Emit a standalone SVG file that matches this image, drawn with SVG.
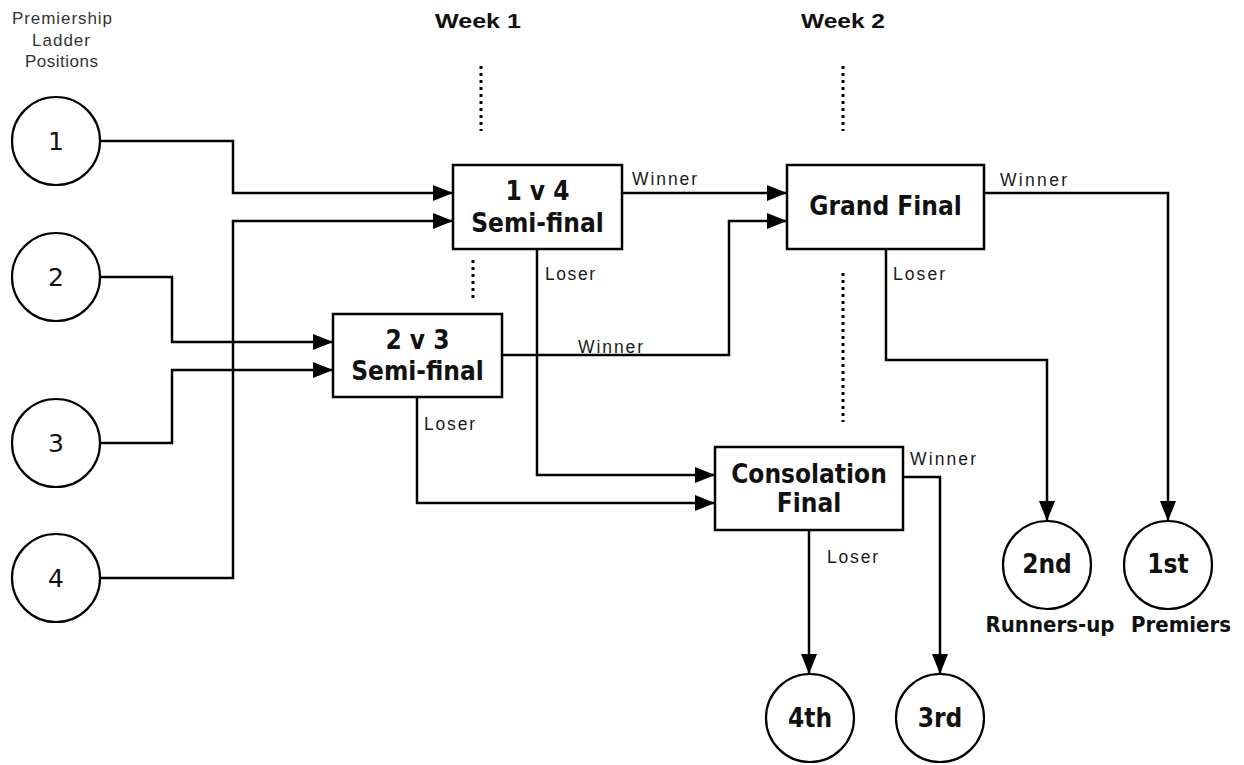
<svg xmlns="http://www.w3.org/2000/svg" width="1244" height="765" viewBox="0 0 1244 765">
<defs>
<marker id="arr" markerUnits="userSpaceOnUse" markerWidth="20" markerHeight="16" refX="20" refY="8" orient="auto">
<path d="M0,0 L20,8 L0,16 z" fill="#000"/>
</marker>
<style>
.c{fill:#fff;stroke:#000;stroke-width:2.2}
.b{fill:#fff;stroke:#000;stroke-width:2.5}
.ln{fill:none;stroke:#000;stroke-width:2.5;marker-end:url(#arr)}
.dot{fill:none;stroke:#000;stroke-width:3;stroke-dasharray:3 4}
.num{font-family:"DejaVu Sans",sans-serif;font-size:25px;fill:#111;text-anchor:middle}
.bx{font-family:"DejaVu Sans Condensed","DejaVu Sans",sans-serif;font-stretch:condensed;font-weight:bold;font-size:26px;fill:#111;text-anchor:middle}
.sub{font-family:"DejaVu Sans Condensed","DejaVu Sans",sans-serif;font-stretch:condensed;font-weight:bold;font-size:22px;fill:#111;text-anchor:middle}
.lb{font-family:"Liberation Sans",Arial,sans-serif;font-size:17.5px;fill:#1a1a1a}
.wk{font-family:"Liberation Sans",Arial,sans-serif;font-weight:bold;font-size:20px;fill:#111}
.hd{font-family:"Liberation Sans",Arial,sans-serif;font-size:17px;fill:#333}
</style>
</defs>
<rect width="1244" height="765" fill="#fff"/>

<g id="header">
<text class="hd" x="12" y="24" textLength="100" lengthAdjust="spacing">Premiership</text>
<text class="hd" x="32" y="46" textLength="58" lengthAdjust="spacing">Ladder</text>
<text class="hd" x="25" y="67" textLength="73" lengthAdjust="spacing">Positions</text>
<text class="wk" x="435" y="28" textLength="86" lengthAdjust="spacingAndGlyphs">Week 1</text>
<text class="wk" x="801" y="28" textLength="84" lengthAdjust="spacingAndGlyphs">Week 2</text>
</g>

<g id="dividers">
<line class="dot" x1="481" y1="66" x2="481" y2="131"/>
<line class="dot" x1="473" y1="260" x2="473" y2="299"/>
<line class="dot" x1="843" y1="66" x2="843" y2="131"/>
<line class="dot" x1="843" y1="273" x2="843" y2="422"/>
</g>

<g id="connectors">
<path class="ln" d="M100,141 H233 V193 H453"/>
<path class="ln" d="M100,578 H233 V221 H453"/>
<path class="ln" d="M100,277 H172 V342 H333"/>
<path class="ln" d="M100,443 H172 V370 H333"/>
<path class="ln" d="M622,193 H787"/>
<path class="ln" d="M502,355 H729 V221 H787"/>
<path class="ln" d="M537,249 V475 H715"/>
<path class="ln" d="M417,397 V503 H715"/>
<path class="ln" d="M984,193 H1168 V521"/>
<path class="ln" d="M886,249 V360 H1047 V521"/>
<path class="ln" d="M903,477 H940 V674"/>
<path class="ln" d="M809,530 V674"/>
<text class="lb" x="632" y="185" textLength="65" lengthAdjust="spacing">Winner</text>
<text class="lb" x="1000" y="186" textLength="67" lengthAdjust="spacing">Winner</text>
<text class="lb" x="578" y="353" textLength="65" lengthAdjust="spacing">Winner</text>
<text class="lb" x="910" y="465" textLength="66" lengthAdjust="spacing">Winner</text>
<text class="lb" x="545" y="280" textLength="50" lengthAdjust="spacing">Loser</text>
<text class="lb" x="893" y="280" textLength="52" lengthAdjust="spacing">Loser</text>
<text class="lb" x="424" y="430" textLength="51" lengthAdjust="spacing">Loser</text>
<text class="lb" x="827" y="563" textLength="51" lengthAdjust="spacing">Loser</text>
</g>

<g id="pos1"><circle class="c" cx="56" cy="141" r="44"/><text class="num" x="56" y="150">1</text></g>
<g id="pos2"><circle class="c" cx="56" cy="277" r="44"/><text class="num" x="56" y="286">2</text></g>
<g id="pos3"><circle class="c" cx="56" cy="443" r="44"/><text class="num" x="56" y="452">3</text></g>
<g id="pos4"><circle class="c" cx="56" cy="578" r="44"/><text class="num" x="56" y="587">4</text></g>

<g id="sf14"><rect class="b" x="453" y="165" width="169" height="84"/>
<text class="bx" x="537.5" y="200">1 v 4</text><text class="bx" x="537.5" y="232">Semi-final</text></g>
<g id="sf23"><rect class="b" x="333" y="314" width="169" height="83"/>
<text class="bx" x="417.5" y="349">2 v 3</text><text class="bx" x="417.5" y="380">Semi-final</text></g>
<g id="gf"><rect class="b" x="787" y="165" width="197" height="84"/>
<text class="bx" x="885.5" y="215">Grand Final</text></g>
<g id="cf"><rect class="b" x="715" y="447" width="188" height="83"/>
<text class="bx" x="809" y="483">Consolation</text><text class="bx" x="809" y="512">Final</text></g>

<g id="second"><circle class="c" cx="1047" cy="565" r="44"/><text class="bx" x="1047" y="573">2nd</text>
<text class="sub" x="1050" y="632">Runners-up</text></g>
<g id="first"><circle class="c" cx="1168" cy="565" r="44"/><text class="bx" x="1168" y="573">1st</text>
<text class="sub" x="1181" y="632">Premiers</text></g>
<g id="fourth"><circle class="c" cx="810" cy="718" r="44"/><text class="bx" x="810" y="727">4th</text></g>
<g id="third"><circle class="c" cx="940" cy="718" r="44"/><text class="bx" x="940" y="727">3rd</text></g>
</svg>
